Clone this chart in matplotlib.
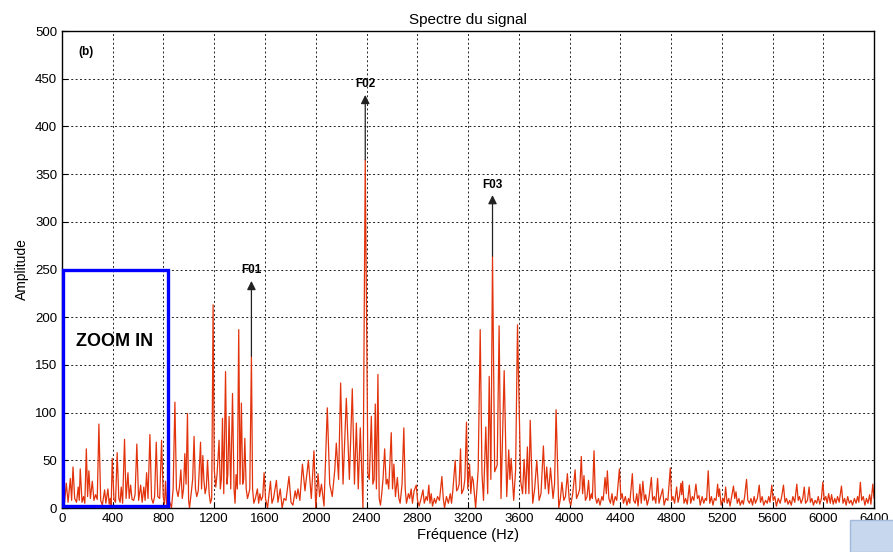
import numpy as np
import matplotlib.pyplot as plt
from matplotlib.patches import Rectangle

plt.rcParams['font.family'] = ['Liberation Sans', 'DejaVu Sans']

# spectrum vertices (frequency in Hz, amplitude), band by band
f_band1 = [0, 10, 20, 34, 48, 66, 76, 87, 100, 115, 128, 136, 144, 158, 170, 180, 192, 202,
           212, 224, 239, 252, 265, 278, 291, 305, 318, 336, 346, 362, 372, 380, 388, 396,
           410, 422, 435, 448, 458, 467, 478, 493, 505, 520, 530, 541, 552, 565, 576, 590,
           604, 620, 632, 645, 655, 667, 678, 693, 706, 718, 730, 743, 755, 770, 785, 798,
           808, 816, 826, 840]
a_band1 = [3, 14, 5, 26, 6, 31, 8, 43, 10, 6, 22, 8, 41, 6, 12, 5, 62, 12,
           39, 10, 28, 8, 14, 9, 88, 8, 3, 19, 5, 20, 4, 10, 3, 52,
           9, 6, 58, 10, 6, 22, 5, 72, 10, 37, 10, 24, 9, 8, 14, 67,
           8, 24, 6, 22, 8, 37, 10, 77, 10, 5, 12, 69, 12, 10, 71, 12,
           4, 28, 2, 6]

f_band2 = [850, 863, 876, 890, 902, 915, 926, 937, 948, 958, 968, 978, 989, 998, 1005,
           1018, 1030, 1041, 1052, 1062, 1074, 1092, 1100, 1110, 1118, 1128, 1138, 1147,
           1160, 1170, 1180, 1191, 1200, 1212, 1222, 1238, 1248, 1256, 1265, 1275, 1289,
           1300, 1307, 1317, 1330, 1344, 1356, 1364, 1372, 1382, 1393, 1403, 1414, 1424,
           1432, 1441, 1452, 1462, 1472, 1480, 1493, 1502, 1512, 1524, 1540, 1550, 1560,
           1570, 1582, 1593, 1604, 1620, 1643, 1655, 1667, 1690, 1702, 1720, 1735, 1750,
           1765, 1789, 1805, 1820, 1838, 1848, 1860, 1875, 1895, 1915, 1942, 1965, 1986,
           2000, 2018, 2030, 2045, 2065, 2091, 2110, 2130, 2150, 2162, 2180, 2196, 2215,
           2241, 2265, 2288, 2305, 2320, 2335, 2351, 2372, 2390]
a_band2 = [6, 0, 20, 111, 20, 12, 22, 40, 10, 20, 57, 25, 99, 8, 0,
           15, 30, 75, 20, 12, 18, 69, 20, 55, 30, 15, 22, 50,
           15, 5, 10, 213, 40, 22, 35, 71, 20, 30, 94, 15, 143,
           25, 35, 96, 20, 120, 20, 5, 35, 20, 187, 25, 110, 25,
           30, 73, 20, 10, 15, 20, 159, 20, 5, 10, 20, 5, 15,
           8, 12, 37, 10, 0, 28, 5, 10, 29, 6, 20, 0, 10,
           8, 33, 6, 3, 18, 10, 20, 8, 46, 18, 50, 10, 60,
           0, 36, 12, 25, 2, 105, 25, 12, 40, 68, 30, 131, 25,
           115, 30, 125, 25, 89, 20, 84, 0, 365]

f_band3 = [2411, 2422, 2438, 2450, 2460, 2469, 2478, 2490, 2500, 2510, 2520, 2530, 2543,
           2555, 2565, 2575, 2595, 2605, 2616, 2628, 2643, 2655, 2665, 2680, 2694, 2705,
           2715, 2730, 2740, 2752, 2762, 2775, 2792, 2802, 2815, 2830, 2845, 2855, 2870,
           2880, 2891, 2900, 2910, 2920, 2935, 2945, 2960, 2975, 2994, 3005, 3015, 3030,
           3045, 3060, 3070, 3080, 3099, 3110, 3120, 3130, 3141, 3150, 3165, 3175, 3188,
           3198, 3212, 3222, 3232, 3241, 3260, 3280, 3296, 3310, 3322, 3340, 3355, 3367,
           3380, 3393, 3410, 3430, 3445, 3460, 3485, 3505, 3521, 3530, 3540, 3560, 3575,
           3590, 3615, 3630, 3642, 3655, 3668, 3680, 3690, 3710, 3725, 3742, 3760, 3775,
           3794, 3808, 3820, 3835, 3850, 3870, 3882, 3894, 3915, 3928, 3940, 3955, 3968,
           3983, 3998, 4010, 4025, 4044]
a_band3 = [36, 30, 96, 25, 30, 109, 20, 140, 10, 3, 15, 30, 62,
           25, 30, 20, 79, 20, 46, 12, 32, 10, 5, 25, 84, 20,
           5, 15, 10, 20, 5, 18, 24, 8, 2, 10, 19, 5, 12,
           8, 24, 5, 15, 2, 10, 5, 12, 8, 33, 10, 0, 12,
           5, 15, 5, 18, 50, 18, 20, 25, 62, 15, 20, 30, 90,
           20, 46, 15, 33, 29, 0, 40, 187, 36, 8, 85, 15, 138,
           30, 264, 38, 45, 191, 10, 144, 12, 61, 30, 52, 8, 40,
           192, 28, 15, 51, 15, 64, 15, 92, 5, 20, 50, 8, 15,
           65, 20, 43, 15, 42, 10, 25, 103, 0, 10, 27, 8, 12,
           36, 8, 3, 15, 40]

f_band4 = [4055, 4070, 4080, 4093, 4103, 4114, 4125, 4138, 4150, 4160, 4172, 4180, 4193,
           4203, 4215, 4228, 4240, 4255, 4265, 4280, 4290, 4298, 4310, 4322, 4335, 4345,
           4360, 4372, 4393, 4405, 4415, 4425, 4440, 4452, 4465, 4475, 4495, 4505, 4518,
           4530, 4540, 4555, 4565, 4578, 4590, 4600, 4612, 4625, 4645, 4655, 4668, 4680,
           4694, 4705, 4718, 4734, 4745, 4760, 4775, 4794, 4805, 4815, 4828, 4844, 4855,
           4866, 4878, 4884, 4891, 4902, 4915, 4928, 4944, 4955, 4968, 4980, 4996, 5008,
           5020, 5030, 5045, 5058, 5070, 5080, 5093, 5105, 5118, 5130, 5142, 5155, 5167,
           5175, 5182, 5195, 5210, 5220, 5230, 5242, 5255, 5265, 5278, 5292, 5302, 5312,
           5322, 5335, 5345, 5360, 5370, 5380, 5395, 5405, 5418, 5430, 5442, 5455, 5465,
           5480, 5495, 5505, 5518, 5530, 5545, 5558, 5570, 5580, 5594, 5605, 5618, 5630,
           5645, 5660, 5672, 5686, 5698, 5710, 5722, 5735, 5748, 5760, 5775, 5791, 5802,
           5812, 5825, 5838, 5850, 5860, 5875, 5888, 5898, 5910, 5922, 5935, 5948, 5960,
           5972, 5985, 5996, 6008, 6020, 6030, 6042, 6055, 6065, 6078, 6090, 6100, 6112,
           6125, 6143, 6155, 6168, 6180, 6192, 6205, 6218, 6230, 6245, 6258, 6270, 6280,
           6292, 6302, 6315, 6328, 6340, 6352, 6365, 6375, 6390, 6400]
a_band4 = [10, 15, 20, 54, 15, 34, 8, 12, 29, 8, 15, 10, 60,
           12, 5, 10, 3, 12, 8, 32, 15, 39, 10, 5, 15, 3,
           12, 8, 41, 10, 15, 5, 12, 3, 10, 5, 36, 8, 5,
           15, 2, 25, 5, 28, 8, 14, 3, 10, 32, 8, 12, 5,
           31, 5, 12, 20, 3, 10, 8, 42, 8, 12, 5, 22, 6,
           12, 26, 14, 28, 5, 10, 4, 24, 5, 12, 8, 25, 10,
           13, 3, 12, 5, 10, 8, 39, 5, 12, 3, 10, 8, 25,
           12, 20, 3, 10, 6, 22, 5, 10, 2, 12, 23, 10, 17,
           5, 10, 3, 8, 4, 12, 30, 8, 5, 10, 3, 12, 5,
           10, 24, 6, 12, 3, 8, 5, 12, 6, 24, 8, 12, 2,
           10, 5, 12, 24, 6, 10, 4, 8, 3, 12, 6, 25, 8,
           12, 5, 10, 22, 5, 8, 22, 6, 10, 3, 8, 5, 12,
           4, 10, 27, 8, 12, 5, 15, 5, 14, 4, 10, 5, 12,
           6, 23, 5, 10, 3, 12, 5, 8, 3, 10, 5, 12, 6,
           27, 8, 12, 3, 10, 5, 14, 4, 25, 10]

freq = np.array(f_band1 + f_band2 + f_band3 + f_band4)
amp = np.array(a_band1 + a_band2 + a_band3 + a_band4)

# marked components: peak position, peak height and arrow tip height
peak_names = ['F01', 'F02', 'F03']
peak_freq = [1493, 2390, 3393]
peak_amp = [159, 365, 264]
arrow_tip = [238, 433, 328]

# zoomed region outline (Hz, amplitude)
box_f = [8, 834]
box_a = [2, 250]

fig = plt.figure(figsize=(8.93, 5.52), dpi=100)
ax = fig.add_axes([0.0694, 0.0797, 0.9094, 0.8641])

ax.plot(freq, amp, color='#e2330c', lw=0.9)

for name, f, a, tip in zip(peak_names, peak_freq, peak_amp, arrow_tip):
    ax.annotate('', xy=(f, tip), xytext=(f, a),
                arrowprops=dict(arrowstyle='-|>', color='#222222', lw=0.9,
                                mutation_scale=13, shrinkA=0, shrinkB=0))
    ax.text(f, tip + 11, name, ha='center', va='center', fontsize=8.5,
            fontweight='bold')

ax.add_patch(Rectangle((box_f[0], box_a[0]), box_f[1] - box_f[0], box_a[1] - box_a[0],
                       fill=False, ec='#0000ff', lw=2.4, clip_on=False, zorder=5))
ax.text(417, 175, 'ZOOM IN', ha='center', va='center', fontsize=13,
        fontweight='bold')
ax.text(189, 478, '(b)', ha='center', va='center', fontsize=8.5, fontweight='bold')

ax.set_xlim(0, 6400)
ax.set_ylim(0, 500)
ax.set_xticks(np.arange(0, 6401, 400))
ax.set_yticks(np.arange(0, 501, 50))
ax.grid(True, ls=(0, (2, 2.5)), color='#222222', lw=0.7)
ax.tick_params(direction='in', length=4, labelsize=9.5, top=False, right=False)
for s in ax.spines.values():
    s.set_linewidth(1.0)

ax.set_title('Spectre du signal', fontsize=11, pad=5)
ax.set_xlabel('Fréquence (Hz)', fontsize=10.5, labelpad=2)
ax.set_ylabel('Amplitude', fontsize=10, labelpad=4)

# stray panel corner at the lower right
fig.patches.append(Rectangle((0.952, 0.0), 0.06, 0.058, transform=fig.transFigure,
                             fc='#c7d7ed', ec='#a3badb', lw=1.0))

fig.savefig('out.png', dpi=100)
